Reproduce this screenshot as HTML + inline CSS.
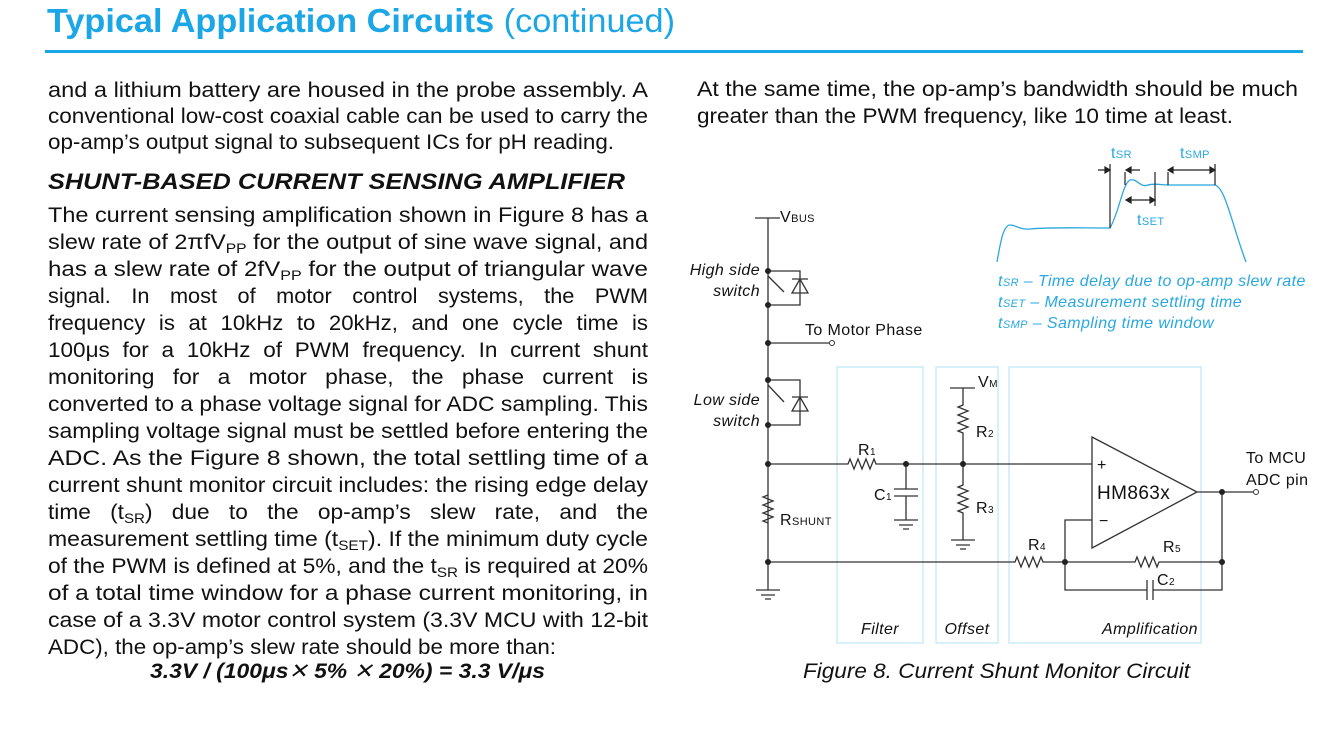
<!DOCTYPE html>
<html><head><meta charset="utf-8"><style>
body{margin:0;width:1340px;height:741px;background:#fff;position:relative;overflow:hidden;font-family:"Liberation Sans",sans-serif;color:#111}
</style></head><body>
<div style="position:absolute;left:45px;top:50px;width:1258px;height:3px;background:#1ba6e6"></div>
<svg width="1340" height="741" style="position:absolute;left:0;top:0" font-family="Liberation Sans, sans-serif">
<text x="47" y="32" font-size="33" fill="#1ba6e6" textLength="628" lengthAdjust="spacingAndGlyphs"><tspan font-weight="bold">Typical Application Circuits</tspan> (continued)</text>
<g font-size="21" fill="#111">
<text x="48" y="97" textLength="600" lengthAdjust="spacingAndGlyphs">and a lithium battery are housed in the probe assembly. A</text>
<text x="48" y="123" textLength="600" lengthAdjust="spacingAndGlyphs">conventional low-cost coaxial cable can be used to carry the</text>
<text x="48" y="149" textLength="566" lengthAdjust="spacingAndGlyphs">op-amp’s output signal to subsequent ICs for pH reading.</text>
<text x="48" y="189" textLength="577" lengthAdjust="spacingAndGlyphs" font-weight="bold" font-style="italic" font-size="22">SHUNT-BASED CURRENT SENSING AMPLIFIER</text>
<text x="48" y="222" textLength="600" lengthAdjust="spacingAndGlyphs">The current sensing amplification shown in Figure 8 has a</text>
<text x="48" y="249" textLength="600" lengthAdjust="spacingAndGlyphs">slew rate of 2πfV<tspan font-size="14" dy="4">PP</tspan><tspan dy="-4"> for the output of sine wave signal, and</tspan></text>
<text x="48" y="276" textLength="600" lengthAdjust="spacingAndGlyphs">has a slew rate of 2fV<tspan font-size="14" dy="4">PP</tspan><tspan dy="-4"> for the output of triangular wave</tspan></text>
<text x="48" y="303" textLength="600" lengthAdjust="spacingAndGlyphs" word-spacing="14">signal. In most of motor control systems, the PWM</text>
<text x="48" y="330" textLength="600" lengthAdjust="spacingAndGlyphs" word-spacing="7">frequency is at 10kHz to 20kHz, and one cycle time is</text>
<text x="48" y="357" textLength="600" lengthAdjust="spacingAndGlyphs" word-spacing="6">100μs for a 10kHz of PWM frequency. In current shunt</text>
<text x="48" y="384" textLength="600" lengthAdjust="spacingAndGlyphs" word-spacing="11">monitoring for a motor phase, the phase current is</text>
<text x="48" y="411" textLength="600" lengthAdjust="spacingAndGlyphs">converted to a phase voltage signal for ADC sampling. This</text>
<text x="48" y="438" textLength="600" lengthAdjust="spacingAndGlyphs">sampling voltage signal must be settled before entering the</text>
<text x="48" y="465" textLength="600" lengthAdjust="spacingAndGlyphs">ADC. As the Figure 8 shown, the total settling time of a</text>
<text x="48" y="492" textLength="600" lengthAdjust="spacingAndGlyphs">current shunt monitor circuit includes: the rising edge delay</text>
<text x="48" y="519" textLength="600" lengthAdjust="spacingAndGlyphs" word-spacing="12">time (t<tspan font-size="14" dy="4" word-spacing="0">SR</tspan><tspan dy="-4">) due to the op-amp’s slew rate, and the</tspan></text>
<text x="48" y="546" textLength="600" lengthAdjust="spacingAndGlyphs">measurement settling time (t<tspan font-size="14" dy="4">SET</tspan><tspan dy="-4">). If the minimum duty cycle</tspan></text>
<text x="48" y="573" textLength="600" lengthAdjust="spacingAndGlyphs">of the PWM is defined at 5%, and the t<tspan font-size="14" dy="4">SR</tspan><tspan dy="-4"> is required at 20%</tspan></text>
<text x="48" y="600" textLength="600" lengthAdjust="spacingAndGlyphs">of a total time window for a phase current monitoring, in</text>
<text x="48" y="627" textLength="600" lengthAdjust="spacingAndGlyphs">case of a 3.3V motor control system (3.3V MCU with 12-bit</text>
<text x="48" y="654" textLength="508" lengthAdjust="spacingAndGlyphs">ADC), the op-amp’s slew rate should be more than:</text>
<text x="150" y="678" textLength="395" lengthAdjust="spacingAndGlyphs" font-weight="bold" font-style="italic">3.3V / (100μs<tspan font-weight="normal">✕</tspan> 5% <tspan font-weight="normal">✕</tspan> 20%) = 3.3 V/μs</text>
<text x="697" y="96" textLength="601" lengthAdjust="spacingAndGlyphs">At the same time, the op-amp’s bandwidth should be much</text>
<text x="697" y="123" textLength="536" lengthAdjust="spacingAndGlyphs">greater than the PWM frequency, like 10 time at least.</text>
<text x="803" y="678" textLength="387" lengthAdjust="spacingAndGlyphs" font-style="italic">Figure 8. Current Shunt Monitor Circuit</text>
</g>
<g fill="none" stroke="#c4e8f6" stroke-width="1.3">
<rect x="837" y="367" width="86" height="276"/><rect x="936" y="367" width="62" height="276"/><rect x="1009" y="367" width="192" height="276"/>
</g>
<g fill="none" stroke="#333" stroke-width="1.3">
<path d="M755 218H780M768 218V590"/>
<path d="M768 271H800V305H768"/><path d="M768 276L784 292" /><path d="M792 279H808M800 279L792 293H808Z"/>
<path d="M768 343H829"/>
<path d="M768 380H800V425H768"/><path d="M768 385L784 402"/><path d="M792 397H808M800 397L792 411H808Z"/>
<path d="M768 464H848l2 -5l4 10l4 -10l4 10l4 -10l4 10l4-10l2 5H1092"/>
<path d="M906 464V489M894 489H918M894 496H918M906 496V520M894 520H918M899 525H913M903 529H909"/>
<path d="M950 388H975M963 388V405l-5 2l10 4l-10 4l10 4l-10 4l10 4l-10 4l5 2V485l-5 2l10 4l-10 4l10 4l-10 4l10 4l-10 4l5 2V540M951 540H975M956 545H970M960 549H966"/>
<path d="M768 495l-5 2l10 4l-10 4l10 4l-10 4l10 4l-10 4l5 2"/>
<path d="M756 590H780M761 595H775M765 599H771"/>
<path d="M768 562H1015l2 -5l4 10l4 -10l4 10l4 -10l4 10l4-10l2 5H1135l2 -5l4 10l4 -10l4 10l4 -10l4 10l2-5H1222"/>
<path d="M1065 562V520H1092M1065 562V590H1147M1153 590H1222V492M1147 580V600M1153 580V600"/>
<path d="M1092 437L1197 492L1092 548Z"/><path d="M1197 492H1253"/>
</g>
<g fill="#222"><circle cx="768" cy="271" r="3"/><circle cx="768" cy="305" r="3"/><circle cx="768" cy="343" r="3"/><circle cx="768" cy="380" r="3"/><circle cx="768" cy="425" r="3"/><circle cx="768" cy="464" r="3"/><circle cx="768" cy="562" r="3"/><circle cx="906" cy="464" r="3"/><circle cx="963" cy="464" r="3"/><circle cx="1065" cy="562" r="3"/><circle cx="1222" cy="562" r="3"/><circle cx="1222" cy="492" r="3"/></g>
<circle cx="832" cy="343" r="2.5" fill="#fff" stroke="#333"/><circle cx="1256" cy="492" r="2.5" fill="#fff" stroke="#333"/>
<g font-size="16" fill="#111" letter-spacing="0.4">
<text x="780" y="222">V<tspan font-size="11">BUS</tspan></text>
<text x="760" y="275" text-anchor="end" font-style="italic">High side</text><text x="760" y="296" text-anchor="end" font-style="italic">switch</text>
<text x="805" y="335">To Motor Phase</text>
<text x="760" y="405" text-anchor="end" font-style="italic">Low side</text><text x="760" y="426" text-anchor="end" font-style="italic">switch</text>
<text x="858" y="455">R<tspan font-size="10">1</tspan></text>
<text x="874" y="500">C<tspan font-size="10">1</tspan></text>
<text x="978" y="387">V<tspan font-size="10">M</tspan></text>
<text x="976" y="437">R<tspan font-size="10">2</tspan></text>
<text x="976" y="513">R<tspan font-size="10">3</tspan></text>
<text x="780" y="525">R<tspan font-size="11">SHUNT</tspan></text>
<text x="1028" y="550">R<tspan font-size="10">4</tspan></text>
<text x="1163" y="552">R<tspan font-size="10">5</tspan></text>
<text x="1157" y="585">C<tspan font-size="10">2</tspan></text>
<text x="1097" y="470" font-size="16">+</text><text x="1099" y="526" font-size="16">−</text>
<text x="1097" y="499" font-size="19">HM863x</text>
<text x="1246" y="463">To MCU</text><text x="1246" y="485">ADC pin</text>
<g font-style="italic"><text x="880" y="634" text-anchor="middle">Filter</text><text x="967" y="634" text-anchor="middle">Offset</text><text x="1150" y="634" text-anchor="middle">Amplification</text></g>
</g>
<path d="M997 262C1000 245 1003 225 1010 225C1016 225 1020 230 1030 229C1050 227 1080 228 1110 228C1120 210 1122 185 1130 180C1137 178 1140 188 1148 185C1155 183 1160 185 1170 185L1214 185C1225 185 1232 225 1246 262" fill="none" stroke="#29a8e0" stroke-width="1.3"/>
<g stroke="#222" stroke-width="1.2" fill="#222">
<path d="M1110 164V228M1125 172V185M1155 172V206M1168 172V185M1215 164V185" fill="none"/>
<path d="M1098 170H1110M1126 170H1140M1168 170H1215M1126 200H1155" fill="none"/>
<path d="M1110 170l-5-3v6zM1126 170l5-3v6zM1168 170l5-3v6zM1215 170l-5-3v6zM1126 200l5-3v6zM1155 200l-5-3v6z"/>
</g>
<g fill="#29a8e0" font-size="16" letter-spacing="0.4">
<text x="1111" y="158">t<tspan font-size="11">SR</tspan></text>
<text x="1180" y="158">t<tspan font-size="11">SMP</tspan></text>
<text x="1137" y="225">t<tspan font-size="11">SET</tspan></text>
<g font-style="italic"><text x="998" y="286">t<tspan font-size="11">SR</tspan> – Time delay due to op-amp slew rate</text>
<text x="998" y="307">t<tspan font-size="11">SET</tspan> – Measurement settling time</text>
<text x="998" y="328">t<tspan font-size="11">SMP</tspan> – Sampling time window</text></g>
</g>
</svg>
</body></html>
